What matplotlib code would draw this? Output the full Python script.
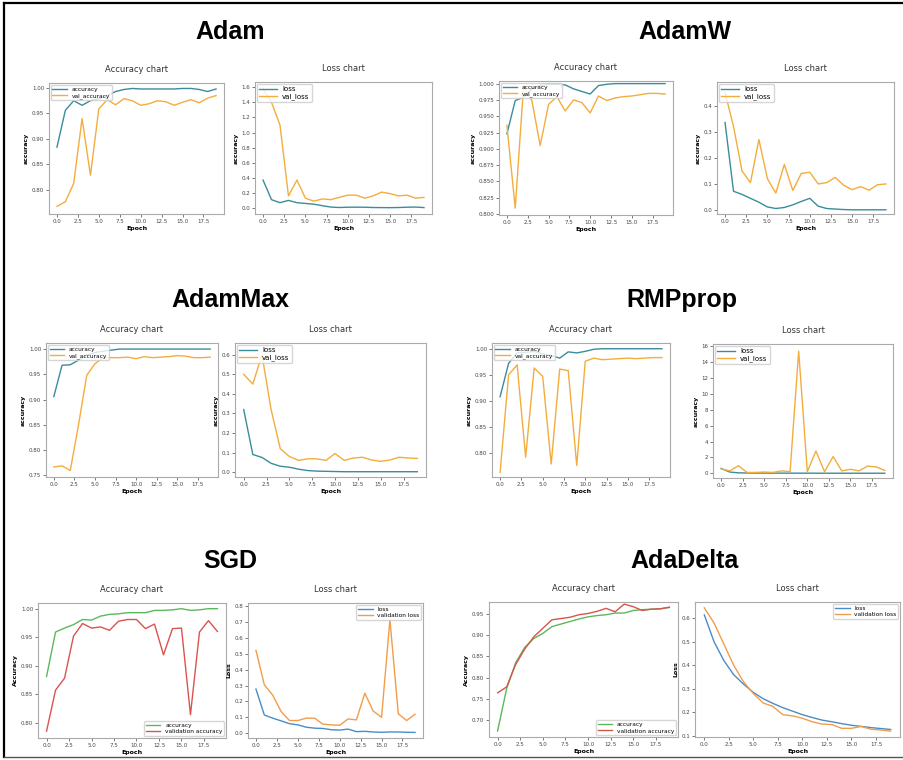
import numpy as np
import matplotlib
matplotlib.use("Agg")
import matplotlib.pyplot as plt
from matplotlib.lines import Line2D

W, H = 904, 760

epochs = np.arange(20)

# ---- Adam ----
adam_acc = [0.884, 0.956, 0.975, 0.966, 0.975, 0.979, 0.985, 0.993, 0.997, 0.999,
            0.998, 0.998, 0.998, 0.998, 0.998, 0.999, 0.999, 0.997, 0.993, 0.998]
adam_val_acc = [0.768, 0.777, 0.813, 0.940, 0.829, 0.959, 0.977, 0.967, 0.979, 0.975,
                0.966, 0.969, 0.975, 0.973, 0.966, 0.972, 0.977, 0.971, 0.980, 0.985]
adam_loss = [0.37, 0.11, 0.07, 0.10, 0.07, 0.06, 0.05, 0.03, 0.012, 0.006,
             0.01, 0.01, 0.01, 0.006, 0.005, 0.004, 0.006, 0.01, 0.012, 0.005]
adam_val_loss = [1.58, 1.40, 1.10, 0.16, 0.37, 0.13, 0.09, 0.12, 0.11, 0.14,
                 0.17, 0.17, 0.13, 0.16, 0.21, 0.19, 0.16, 0.17, 0.13, 0.14]

# ---- AdamW ----
adamw_acc = [0.923, 0.974, 0.979, 0.992, 0.997, 0.999, 0.999, 0.998, 0.992, 0.988,
             0.984, 0.997, 0.999, 1.0, 1.0, 1.0, 1.0, 1.0, 1.0, 1.0]
adamw_val_acc = [0.936, 0.809, 0.996, 0.974, 0.905, 0.968, 0.980, 0.958, 0.975, 0.971,
                 0.955, 0.981, 0.974, 0.978, 0.980, 0.981, 0.983, 0.985, 0.985, 0.984]
adamw_loss = [0.335, 0.072, 0.060, 0.045, 0.030, 0.012, 0.006, 0.010, 0.020, 0.033,
              0.045, 0.015, 0.006, 0.004, 0.002, 0.001, 0.001, 0.001, 0.001, 0.001]
adamw_val_loss = [0.45, 0.32, 0.15, 0.105, 0.27, 0.12, 0.065, 0.175, 0.075, 0.14,
                  0.145, 0.10, 0.105, 0.125, 0.095, 0.078, 0.09, 0.076, 0.097, 0.10]

# ---- AdamMax ----
adamax_acc = [0.906, 0.968, 0.969, 0.978, 0.988, 0.993, 0.996, 0.998, 1.0, 1.0,
              1.0, 1.0, 1.0, 1.0, 1.0, 1.0, 1.0, 1.0, 1.0, 1.0]
adamax_val_acc = [0.767, 0.769, 0.760, 0.850, 0.948, 0.971, 0.983, 0.983, 0.983, 0.984,
                  0.981, 0.985, 0.983, 0.984, 0.985, 0.987, 0.986, 0.983, 0.983, 0.984]
adamax_loss = [0.32, 0.09, 0.075, 0.045, 0.03, 0.025, 0.015, 0.008, 0.005, 0.004,
               0.003, 0.002, 0.002, 0.002, 0.002, 0.002, 0.002, 0.002, 0.002, 0.002]
adamax_val_loss = [0.50, 0.45, 0.60, 0.32, 0.12, 0.08, 0.06, 0.068, 0.068, 0.06,
                   0.095, 0.06, 0.072, 0.076, 0.062, 0.055, 0.062, 0.076, 0.072, 0.07]

# ---- RMSprop ----
rms_acc = [0.908, 0.972, 0.992, 0.993, 0.995, 0.990, 0.987, 0.982, 0.994, 0.992,
           0.995, 0.999, 1.0, 1.0, 1.0, 1.0, 1.0, 1.0, 1.0, 1.0]
rms_val_acc = [0.763, 0.950, 0.969, 0.792, 0.963, 0.947, 0.779, 0.961, 0.958, 0.776,
               0.976, 0.982, 0.979, 0.980, 0.981, 0.982, 0.981, 0.982, 0.983, 0.983]
rms_loss = [0.6, 0.15, 0.05, 0.03, 0.02, 0.02, 0.015, 0.015, 0.01, 0.01,
            0.01, 0.005, 0.003, 0.002, 0.002, 0.001, 0.001, 0.001, 0.001, 0.001]
rms_val_loss = [0.55, 0.3, 0.95, 0.1, 0.1, 0.15, 0.1, 0.3, 0.2, 15.4,
                0.2, 2.8, 0.2, 2.1, 0.3, 0.5, 0.3, 0.9, 0.8, 0.35]

# ---- SGD ----
sgd_acc = [0.881, 0.959, 0.966, 0.972, 0.981, 0.980, 0.987, 0.990, 0.991, 0.993,
           0.993, 0.993, 0.997, 0.997, 0.998, 1.0, 0.997, 0.998, 1.0, 1.0]
sgd_val_acc = [0.785, 0.857, 0.878, 0.952, 0.974, 0.966, 0.968, 0.962, 0.978, 0.981,
               0.981, 0.965, 0.973, 0.919, 0.965, 0.966, 0.814, 0.959, 0.979, 0.960]
sgd_loss = [0.278, 0.115, 0.095, 0.078, 0.06, 0.053, 0.038, 0.032, 0.03, 0.022,
            0.02, 0.026, 0.01, 0.012, 0.008, 0.006, 0.008, 0.008, 0.006, 0.005]
sgd_val_loss = [0.522, 0.305, 0.24, 0.137, 0.08, 0.08, 0.095, 0.095, 0.057, 0.053,
                0.05, 0.09, 0.084, 0.252, 0.14, 0.10, 0.715, 0.122, 0.08, 0.12]

# ---- AdaDelta ----
ada_acc = [0.674, 0.774, 0.835, 0.871, 0.892, 0.904, 0.920, 0.926, 0.932, 0.938,
           0.943, 0.946, 0.948, 0.952, 0.952, 0.958, 0.960, 0.961, 0.962, 0.965]
ada_val_acc = [0.764, 0.778, 0.831, 0.867, 0.896, 0.916, 0.936, 0.939, 0.942, 0.948,
               0.951, 0.956, 0.963, 0.955, 0.973, 0.967, 0.958, 0.961, 0.962, 0.966]
ada_loss = [0.615, 0.50, 0.42, 0.36, 0.32, 0.285, 0.258, 0.238, 0.22, 0.205,
            0.19, 0.178, 0.167, 0.16, 0.152, 0.145, 0.14, 0.135, 0.131, 0.127]
ada_val_loss = [0.645, 0.58, 0.49, 0.40, 0.33, 0.28, 0.24, 0.225, 0.19, 0.185,
                0.175, 0.16, 0.15, 0.148, 0.132, 0.132, 0.14, 0.128, 0.125, 0.12]

optimizers = ["Adam", "AdamW", "AdamMax", "RMPprop", "SGD", "AdaDelta"]
title_pos = [(230, 32), (685, 32), (230, 300), (682, 300), (230, 561), (685, 561)]

TEAL = "#3a8c9c"
ORANGE = "#f3ad3c"
GREEN = "#5cb85c"
RED = "#d9534f"
BLUE = "#4a8cc8"
LORANGE = "#f39c4a"


def px_axes(fig, l, t, r, b):
    return fig.add_axes([l / W, 1 - b / H, (r - l) / W, (b - t) / H])


def style(ax, title, ylabel, ylim=None):
    ax.set_title(title, fontsize=6, pad=8, color="#333333")
    ax.set_xlabel("Epoch", fontsize=4.5, fontweight="bold", labelpad=1.5)
    ax.set_ylabel(ylabel, fontsize=4.5, fontweight="bold", labelpad=2)
    ax.tick_params(labelsize=4, length=2, width=0.5, pad=1.5, colors="#444444")
    for s in ax.spines.values():
        s.set_color("#aaaaaa")
        s.set_linewidth(0.8)
    if ylim is not None:
        ax.set_ylim(*ylim)


fig = plt.figure(figsize=(W / 100, H / 100), dpi=100)

# first four optimizers: teal / orange, legend upper left
top_sets = [
    ("Adam", adam_acc, adam_val_acc, adam_loss, adam_val_loss,
     (49, 83, 224, 214), (255, 82, 432, 214), (0.753, 1.0097), (-0.08, 1.67)),
    ("AdamW", adamw_acc, adamw_val_acc, adamw_loss, adamw_val_loss,
     (499, 81, 673, 215), (717, 82, 894, 214), (0.7985, 1.004), (-0.015, 0.49)),
    ("AdamMax", adamax_acc, adamax_val_acc, adamax_loss, adamax_val_loss,
     (46, 343, 218, 477), (235, 343, 426, 477), (0.747, 1.012), (-0.025, 0.66)),
    ("RMPprop", rms_acc, rms_val_acc, rms_loss, rms_val_loss,
     (492, 343, 670, 477), (713, 344, 893, 478), (0.754, 1.011), (-0.6, 16.3)),
]

for name, acc, vacc, loss, vloss, abox, lbox, alim, llim in top_sets:
    ax = px_axes(fig, *abox)
    ax.plot(epochs, acc, color=TEAL, lw=1.0, label="accuracy")
    ax.plot(epochs, vacc, color=ORANGE, lw=1.0, label="val_accuracy")
    style(ax, "Accuracy chart", "accuracy", alim)
    ax.legend(loc="upper left", fontsize=4.2, frameon=True, borderpad=0.3,
              handlelength=2.5, labelspacing=0.2, borderaxespad=0.3)

    ax = px_axes(fig, *lbox)
    ax.plot(epochs, loss, color=TEAL, lw=1.0, label="loss")
    ax.plot(epochs, vloss, color=ORANGE, lw=1.0, label="val_loss")
    style(ax, "Loss chart", "accuracy", llim)
    ax.legend(loc="upper left", fontsize=5, frameon=True, borderpad=0.3,
              handlelength=2.5, labelspacing=0.2, borderaxespad=0.3)

# SGD and AdaDelta: green/red and blue/orange
bottom_sets = [
    ("SGD", sgd_acc, sgd_val_acc, sgd_loss, sgd_val_loss,
     (38, 603, 226, 738), (248, 603, 423, 738), (0.773, 1.01), (-0.03, 0.82)),
    ("AdaDelta", ada_acc, ada_val_acc, ada_loss, ada_val_loss,
     (489, 602, 678, 737), (695, 602, 900, 737), (0.66, 0.978), (0.095, 0.67)),
]

for name, acc, vacc, loss, vloss, abox, lbox, alim, llim in bottom_sets:
    ax = px_axes(fig, *abox)
    ax.plot(epochs, acc, color=GREEN, lw=1.0, label="accuracy")
    ax.plot(epochs, vacc, color=RED, lw=1.0, label="validation accuracy")
    style(ax, "Accuracy chart", "Accuracy", alim)
    ax.legend(loc="lower right", fontsize=4.2, frameon=True, borderpad=0.3,
              handlelength=2.5, labelspacing=0.2, borderaxespad=0.3)

    ax = px_axes(fig, *lbox)
    ax.plot(epochs, loss, color=BLUE, lw=1.0, label="loss")
    ax.plot(epochs, vloss, color=LORANGE, lw=1.0, label="validation loss")
    style(ax, "Loss chart", "Loss", llim)
    ax.legend(loc="upper right", fontsize=4.2, frameon=True, borderpad=0.3,
              handlelength=2.5, labelspacing=0.2, borderaxespad=0.3)

# optimizer headings
for name, (x, y) in zip(optimizers, title_pos):
    fig.text(x / W, 1 - y / H, name, fontsize=18, fontweight="bold",
             family=["Liberation Sans", "DejaVu Sans"], ha="center", va="center")

# outer frame
fig.add_artist(Line2D([4 / W, 4 / W], [1 - 3 / H, 1 - 757 / H], color="black", lw=1.6))
fig.add_artist(Line2D([4 / W, 1.0], [1 - 3 / H, 1 - 3 / H], color="black", lw=1.6))
fig.add_artist(Line2D([4 / W, 1.0], [1 - 757 / H, 1 - 757 / H], color="#555555", lw=1.0))

fig.savefig("out.png", dpi=100)
